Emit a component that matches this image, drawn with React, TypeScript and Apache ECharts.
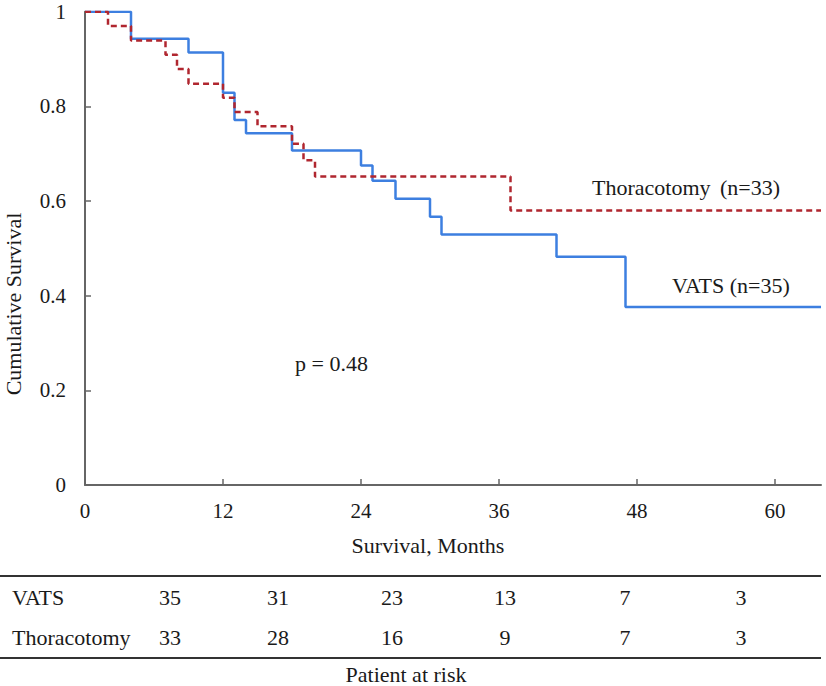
import React, { useEffect, useRef } from "react";
import * as echarts from "echarts";

// ---- data ----
const vatsTimes = [0, 4, 9, 12, 13, 14, 18, 24, 25, 27, 30, 31, 41, 47, 64];
const vatsSurv = [1, 0.943, 0.914, 0.829, 0.771, 0.743, 0.707, 0.675, 0.643, 0.605, 0.567, 0.529, 0.482, 0.376, 0.376];
const thorTimes = [0, 2, 4, 7, 8, 9, 12, 13, 15, 18, 19, 20, 37, 64];
const thorSurv = [1, 0.97, 0.939, 0.909, 0.879, 0.848, 0.818, 0.788, 0.758, 0.721, 0.686, 0.652, 0.58, 0.58];
const xTicks = [0, 12, 24, 36, 48, 60];
const riskGroups = ["VATS", "Thoracotomy"];
const riskVats = [35, 31, 23, 13, 7, 3];
const riskThor = [33, 28, 16, 9, 7, 3];
const pValueText = "p = 0.48";

const FONT = "Liberation Serif";
const TXT = "#1a1a1a";

export default function App() {
  const ref = useRef<HTMLDivElement>(null);
  useEffect(() => {
    if (!ref.current) return;
    const chart = echarts.init(ref.current, undefined, { renderer: "svg" });
    const riskRows = [riskVats, riskThor];
    const colX = [170, 278, 392, 505, 625, 741];
    const rowY = [597, 637];
    const graphics: any[] = [];
    const txt = (text: string, x: number, y: number, align: string, extra: any = {}) => ({
      type: "text", x, y, ...extra,
      style: { text, font: `22px "${FONT}"`, fill: TXT, textAlign: align, textVerticalAlign: "middle" },
    });
    graphics.push(txt("Cumulative Survival", 13, 304, "center", { rotation: Math.PI / 2 }));
    graphics.push(txt("Survival, Months", 428, 545, "center"));
    graphics.push(txt("Thoracotomy", 592, 187, "left"));
    graphics.push(txt("(n=33)", 780, 187, "right"));
    graphics.push(txt("VATS (n=35)", 672, 285, "left"));
    graphics.push(txt(pValueText, 295, 363, "left"));
    graphics.push({ type: "line", shape: { x1: 0, y1: 576, x2: 821, y2: 576 }, style: { stroke: "#333", lineWidth: 2 } });
    graphics.push({ type: "line", shape: { x1: 0, y1: 658, x2: 821, y2: 658 }, style: { stroke: "#333", lineWidth: 2 } });
    riskGroups.forEach((g, r) => {
      graphics.push(txt(g, 12, rowY[r], "left"));
      riskRows[r].forEach((v, c) => graphics.push(txt(String(v), colX[c], rowY[r], "center")));
    });
    graphics.push(txt("Patient at risk", 406, 674, "center"));

    chart.setOption({
      animation: false,
      backgroundColor: "#fff",
      grid: { left: 85, right: 5, top: 11.7, bottom: 201, containLabel: false },
      xAxis: {
        type: "value", min: 0, max: 64, interval: 12,
        axisLine: { lineStyle: { color: "#666", width: 2 } },
        axisTick: { inside: true, length: 6, lineStyle: { color: "#666", width: 1.5 }, customValues: xTicks },
        axisLabel: { customValues: xTicks, fontFamily: FONT, fontSize: 21, color: TXT, margin: 15 },
        splitLine: { show: false },
      },
      yAxis: {
        type: "value", min: 0, max: 1, interval: 0.2,
        axisLine: { show: true, lineStyle: { color: "#666", width: 2 } },
        axisTick: { show: true, inside: true, length: 6, lineStyle: { color: "#666", width: 1.5 } },
        axisLabel: { fontFamily: FONT, fontSize: 21, color: TXT, margin: 19 },
        splitLine: { show: false },
      },
      series: [
        {
          name: "VATS", type: "line", step: "end", showSymbol: false, symbol: "none",
          data: vatsTimes.map((t, i) => [t, vatsSurv[i]]),
          lineStyle: { color: "#3d7fe0", width: 2.5 },
        },
        {
          name: "Thoracotomy", type: "line", step: "end", showSymbol: false, symbol: "none",
          data: thorTimes.map((t, i) => [t, thorSurv[i]]),
          lineStyle: { color: "#b0262f", width: 2.5, type: [6, 4] },
        },
      ],
      graphic: graphics,
    });
    return () => chart.dispose();
  }, []);
  return <div ref={ref} style={{ position: "fixed", left: 0, top: 0, width: 826, height: 686 }} />;
}
